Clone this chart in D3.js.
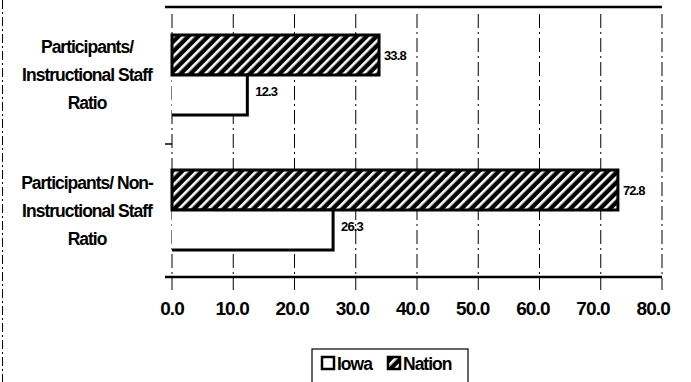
<!DOCTYPE html>
<html><head><meta charset="utf-8">
<script src="https://cdn.jsdelivr.net/npm/d3@7"></script>
<style>body{margin:0;background:#fff}svg{display:block}</style>
</head><body>
<svg id="c" width="691" height="382"></svg>
<script>
const categories = [["Participants/","Instructional Staff","Ratio"],["Participants/ Non-","Instructional Staff","Ratio"]];
const categoryKeys = ["Instructional","NonInstructional"];
const seriesNames = ["Nation","Iowa"];
const nationValues = [33.8, 72.8];
const iowaValues = [12.3, 26.3];
const tickValues = [0,10,20,30,40,50,60,70,80];

const svg = d3.select("#c");
const x = d3.scaleLinear().domain([0,80]).range([172,662]);
const y = d3.scaleBand().domain(categoryKeys).range([7,277]);
const inner = d3.scaleBand().domain(seriesNames).range([28,108]);

const defs = svg.append("defs");
const pat = defs.append("pattern").attr("id","hatch").attr("patternUnits","userSpaceOnUse")
  .attr("width",7).attr("height",7).attr("patternTransform","rotate(45)");
pat.append("rect").attr("width",7).attr("height",7).attr("fill","#000");
pat.append("rect").attr("x",0).attr("width",2.6).attr("height",7).attr("fill","#fff");

// far-left dashed scan edge
svg.append("line").attr("x1",2.5).attr("x2",2.5).attr("y1",0).attr("y2",382)
  .attr("stroke","#000").attr("stroke-width",1).attr("stroke-dasharray","9,3,2,3");

// gridlines
svg.append("g").selectAll("line").data(tickValues).join("line")
  .attr("x1",d=>x(d)).attr("x2",d=>x(d)).attr("y1",14).attr("y2",290)
  .attr("stroke","#000").attr("stroke-width",1).attr("stroke-dasharray","14,4,2,4");

// top and bottom lines
svg.append("line").attr("x1",165).attr("x2",662).attr("y1",7).attr("y2",7).attr("stroke","#000").attr("stroke-width",2.5);
svg.append("line").attr("x1",165).attr("x2",662).attr("y1",277).attr("y2",277).attr("stroke","#000").attr("stroke-width",2.5);
// small tick between categories
svg.append("line").attr("x1",165).attr("x2",172).attr("y1",y("NonInstructional")+2).attr("y2",y("NonInstructional")+2).attr("stroke","#000").attr("stroke-width",1.5);

const rows = categoryKeys.map((k,i)=>({k, nation:nationValues[i], iowa:iowaValues[i]}));

// Nation bars
svg.append("g").selectAll("rect").data(rows).join("rect")
  .attr("x",x(0)).attr("y",d=>y(d.k)+inner("Nation"))
  .attr("width",d=>x(d.nation)-x(0)).attr("height",inner.bandwidth())
  .attr("fill","url(#hatch)").attr("stroke","#000").attr("stroke-width",3);
// Iowa bars (open on the left)
svg.append("g").selectAll("path").data(rows).join("path")
  .attr("d",d=>{const y0=y(d.k)+inner("Iowa"), y1=y0+inner.bandwidth(), x1=x(d.iowa);
    return `M${x(0)},${y0}L${x1},${y0}L${x1},${y1}L${x(0)},${y1}`;})
  .attr("fill","#fff").attr("stroke","#000").attr("stroke-width",3);

// value labels
const vf = "Liberation Sans, Arial, sans-serif";
svg.append("g").selectAll("text").data(rows).join("text")
  .attr("x",d=>x(d.nation)+5).attr("y",d=>y(d.k)+inner("Nation")+inner.bandwidth()/2+5)
  .attr("font-family",vf).attr("font-size",13).attr("font-weight","bold").attr("letter-spacing",-0.9)
  .text(d=>d.nation.toFixed(1));
svg.append("g").selectAll("text").data(rows).join("text")
  .attr("x",d=>x(d.iowa)+8).attr("y",d=>y(d.k)+inner("Iowa")+inner.bandwidth()/2+1)
  .attr("font-family",vf).attr("font-size",13).attr("font-weight","bold").attr("letter-spacing",-0.9)
  .text(d=>d.iowa.toFixed(1));

// category labels
categoryKeys.forEach((k,i)=>{
  const t = svg.append("text").attr("text-anchor","middle")
    .attr("font-family",vf).attr("font-size",17.5).attr("font-weight","bold").attr("letter-spacing",-1);
  const cy = y(k)+y.bandwidth()/2;
  categories[i].forEach((ln,j)=>{
    t.append("tspan").attr("x",87).attr("y",cy-21+j*28+(i==0?-1:0)).text(ln);
  });
});

// x axis labels
svg.append("g").selectAll("text").data(tickValues).join("text")
  .attr("x",d=>x(d)-d*0.11).attr("y",315).attr("text-anchor","middle")
  .attr("font-family",vf).attr("font-size",19).attr("font-weight","bold").attr("letter-spacing",-0.9)
  .text(d=>d.toFixed(1));

// legend
const lg = svg.append("g");
lg.append("rect").attr("x",312).attr("y",349).attr("width",156).attr("height",40).attr("fill","#fff").attr("stroke","#000").attr("stroke-width",1.2);
const legendItems = [{name:"Iowa",fill:"#fff",x:322},{name:"Nation",fill:"url(#hatch)",x:388}];
lg.selectAll("rect.sw").data(legendItems).join("rect").attr("class","sw")
  .attr("x",d=>d.x).attr("y",357).attr("width",12).attr("height",12)
  .attr("fill",d=>d.fill).attr("stroke","#000").attr("stroke-width",2.5);
lg.selectAll("text").data(legendItems).join("text")
  .attr("x",d=>d.x+15).attr("y",370)
  .attr("font-family",vf).attr("font-size",17.5).attr("font-weight","bold").attr("letter-spacing",-1)
  .text(d=>d.name);
</script>
</body></html>
